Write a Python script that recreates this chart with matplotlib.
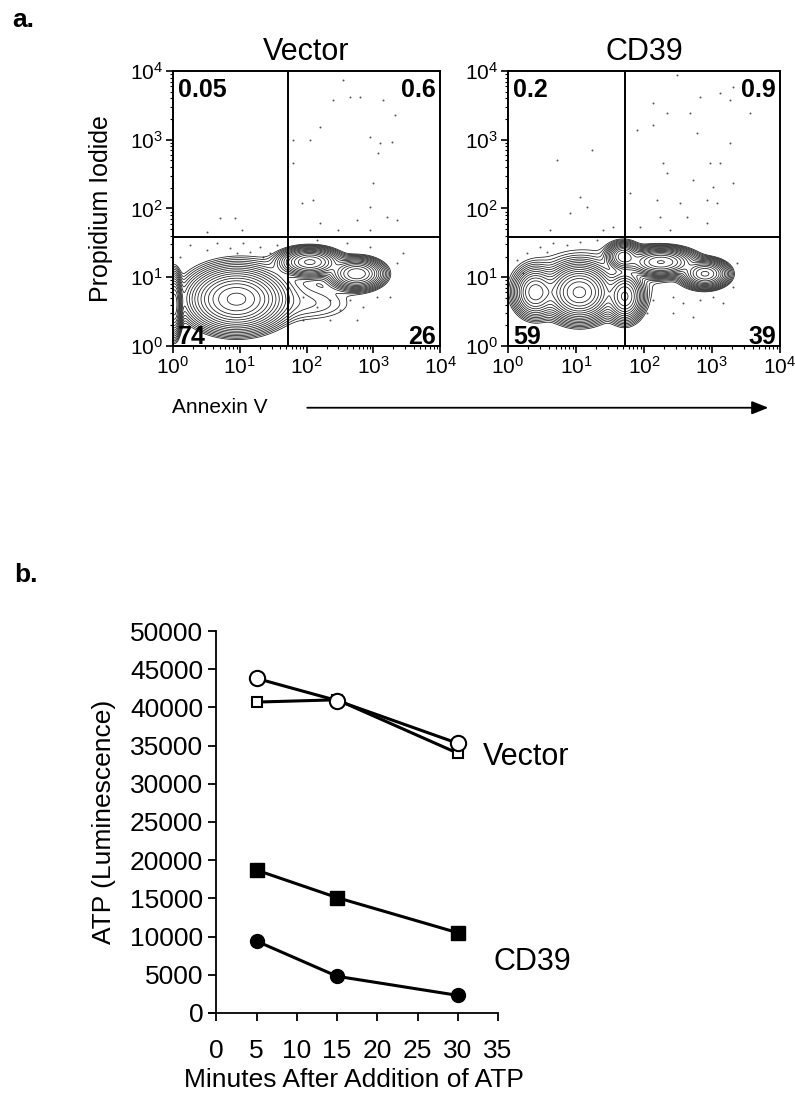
import numpy as np
import matplotlib
matplotlib.use("Agg")
import matplotlib.pyplot as plt
from matplotlib import ticker
from matplotlib.patches import FancyArrowPatch

plt.rcParams['font.family'] = ['Liberation Sans', 'DejaVu Sans']

# ---- panel b data ----
minutes = [5, 15, 30]
vec_circle = [43800, 40900, 35300]
vec_square = [40700, 41000, 34000]
cd39_square = [18700, 15100, 10500]
cd39_circle = [9400, 4800, 2300]

# ---- panel a: populations (log10 annexin, log10 PI, sd x, sd y, weight) ----
vec_cx = [0.95, 0.02, 2.05, 2.75, 1.30, 2.10]
vec_cy = [0.68, 0.60, 1.22, 1.05, 0.85, 0.60]
vec_sx = [0.30, 0.05, 0.20, 0.18, 0.70, 0.40]
vec_sy = [0.19, 0.20, 0.09, 0.10, 0.30, 0.15]
vec_w = [1.00, 0.50, 0.55, 0.50, 0.018, 0.015]

cd_cx = [1.05, 0.40, 1.72, 1.70, 2.25, 2.90, 1.20]
cd_cy = [0.78, 0.78, 0.72, 1.30, 1.22, 1.05, 0.95]
cd_sx = [0.20, 0.14, 0.12, 0.11, 0.22, 0.15, 0.75]
cd_sy = [0.17, 0.16, 0.16, 0.09, 0.09, 0.09, 0.35]
cd_w = [1.00, 0.35, 0.40, 0.35, 0.70, 0.55, 0.018]

# scattered events (log10 x, log10 y)
vec_dots_x = [2.55, 2.40, 2.65, 2.80, 3.15, 3.33, 2.20, 2.05, 2.95, 3.10, 3.28, 1.80, 1.80,
              3.07, 3.00, 2.10, 1.93, 2.95, 3.20, 3.36, 2.75, 2.20, 2.47, 2.95,
              0.70, 0.93, 1.03, 0.51,
              0.25, 0.51, 0.66, 0.85, 1.05, 1.15, 1.30, 1.45, 1.56, 0.10, 1.35, 0.96,
              1.95, 2.16, 2.35, 2.50, 2.65, 2.85, 3.06, 3.25, 2.35, 2.76, 1.95, 3.36,
              3.45, 2.16, 2.95, 2.61]
vec_dots_y = [3.87, 3.58, 3.62, 3.62, 3.58, 3.36, 3.19, 3.00, 3.04, 2.95, 2.97, 3.00, 2.66,
              2.80, 2.37, 2.12, 2.08, 2.02, 1.88, 1.83, 1.83, 1.79, 1.69, 1.69,
              1.86, 1.86, 1.69, 1.66,
              1.47, 1.40, 1.50, 1.43, 1.50, 1.37, 1.44, 1.35, 1.47, 1.29, 1.29, 1.35,
              0.71, 0.57, 0.67, 0.52, 0.67, 0.57, 0.71, 0.71, 0.38, 0.38, 0.38, 1.21,
              1.35, 1.54, 1.44, 1.50]

cd_dots_x = [2.49, 2.82, 3.12, 3.26, 3.31, 2.13, 2.34, 2.68, 3.56, 1.90, 2.13, 2.78, 3.26,
             2.28, 2.97, 3.12, 2.34, 2.72, 3.01, 3.31, 1.79, 2.19, 2.53, 2.93, 3.07,
             2.24, 2.63, 2.93, 1.94, 2.38,
             0.72, 1.24, 1.06, 0.91, 1.16, 0.62, 1.40, 1.54,
             0.13, 0.28, 0.47, 0.66, 0.87, 0.22, 1.06, 1.31, 0.57,
             2.13, 2.43, 2.57, 2.82, 3.01, 3.16, 2.43, 2.72, 3.31, 3.37, 2.04]
cd_dots_y = [3.94, 3.62, 3.68, 3.58, 3.77, 3.53, 3.39, 3.39, 3.39, 3.14, 3.21, 3.10, 2.95,
             2.66, 2.66, 2.66, 2.52, 2.41, 2.31, 2.37, 2.22, 2.12, 2.08, 2.12, 2.08,
             1.88, 1.88, 1.79, 1.73, 1.69,
             2.71, 2.85, 2.17, 1.93, 2.02, 1.69, 1.69, 1.73,
             1.25, 1.35, 1.44, 1.50, 1.47, 1.06, 1.51, 1.54, 1.37,
             0.67, 0.71, 0.63, 0.67, 0.71, 0.63, 0.48, 0.42, 0.86, 1.21, 0.48]

gate_x = 10 ** 1.72
gate_y = 10 ** 1.58

vec_quads = ['0.05', '0.6', '74', '26']
cd_quads = ['0.2', '0.9', '59', '39']


def density(cx, cy, sx, sy, w, gx, gy):
    z = np.zeros_like(gx)
    for i in range(len(cx)):
        z += w[i] * np.exp(-0.5 * (((gx - cx[i]) / sx[i]) ** 2 + ((gy - cy[i]) / sy[i]) ** 2))
    return z


def flow_panel(ax, cx, cy, sx, sy, w, dx, dy, quads, title):
    lx = np.linspace(0, 4, 400)
    ly = np.linspace(0, 4, 400)
    gx, gy = np.meshgrid(lx, ly)
    z = density(cx, cy, sx, sy, w, gx, gy)
    levels = np.geomspace(z.max() * 0.009, z.max() * 0.9, 17)
    ax.contour(10 ** gx, 10 ** gy, z, levels=levels, colors='#1a1a1a', linewidths=0.55)
    ax.scatter(10 ** np.array(dx), 10 ** np.array(dy), s=2, color='#555555', lw=0)
    ax.set_xscale('log')
    ax.set_yscale('log')
    ax.set_xlim(1, 1e4)
    ax.set_ylim(1, 1e4)
    for axis in (ax.xaxis, ax.yaxis):
        axis.set_major_locator(ticker.LogLocator(base=10, numticks=10))
        axis.set_minor_locator(ticker.LogLocator(base=10, subs=np.arange(2, 10), numticks=20))
        axis.set_minor_formatter(ticker.NullFormatter())
    ax.axvline(gate_x, color='black', lw=1.4)
    ax.axhline(gate_y, color='black', lw=1.4)
    for s in ax.spines.values():
        s.set_linewidth(1.4)
    ax.tick_params(which='major', direction='out', length=5, width=1.2, labelsize=15, pad=2)
    ax.tick_params(which='minor', direction='out', length=2.5, width=0.8)
    ax.set_title(title, fontsize=22, pad=8)
    kw = dict(transform=ax.transAxes, fontsize=18, fontweight='bold')
    ax.text(0.02, 0.975, quads[0], ha='left', va='top', **kw)
    ax.text(0.985, 0.975, quads[1], ha='right', va='top', **kw)
    ax.text(0.02, -0.01, quads[2], ha='left', va='bottom', **kw)
    ax.text(0.985, -0.01, quads[3], ha='right', va='bottom', **kw)


fig = plt.figure(figsize=(7.95, 10.99), dpi=100)

ax1 = fig.add_axes([0.2176, 0.6852, 0.336, 0.2502])
flow_panel(ax1, vec_cx, vec_cy, vec_sx, vec_sy, vec_w, vec_dots_x, vec_dots_y, vec_quads, 'Vector')
ax1.set_ylabel('Propidium Iodide', fontsize=18, labelpad=12)

ax2 = fig.add_axes([0.639, 0.6852, 0.342, 0.2502])
flow_panel(ax2, cd_cx, cd_cy, cd_sx, cd_sy, cd_w, cd_dots_x, cd_dots_y, cd_quads, 'CD39')

fig.text(0.216, 0.629, 'Annexin V', fontsize=15, ha='left', va='center')
fig.add_artist(FancyArrowPatch(
    (0.383, 0.629), (0.970, 0.629), transform=fig.transFigure,
    arrowstyle='-|>,head_length=10,head_width=4', color='black', lw=1.3))

fig.text(0.015, 0.982, 'a.', fontsize=19, fontweight='bold', ha='left', va='center')
fig.text(0.018, 0.477, 'b.', fontsize=19, fontweight='bold', ha='left', va='center')

# ---- panel b ----
ax3 = fig.add_axes([0.263, 0.0783, 0.3635, 0.3475])
line_kw = dict(color='black', lw=2.2)
ax3.plot(minutes, vec_square, marker='s', ms=7, mfc='white', mec='black', mew=1.5, **line_kw)
ax3.plot(minutes, vec_circle, marker='o', ms=11, mfc='white', mec='black', mew=1.5, **line_kw)
ax3.plot(minutes, cd39_square, marker='s', ms=10, mfc='black', mec='black', **line_kw)
ax3.plot(minutes, cd39_circle, marker='o', ms=10, mfc='black', mec='black', **line_kw)
ax3.set_xlim(-0.9, 35)
ax3.set_ylim(0, 50000)
ax3.set_xticks(range(0, 36, 5))
ax3.set_yticks(range(0, 50001, 5000))
ax3.spines['top'].set_visible(False)
ax3.spines['right'].set_visible(False)
ax3.spines['left'].set_position(('data', 0))
ax3.spines['left'].set_linewidth(1.3)
ax3.spines['bottom'].set_linewidth(1.3)
ax3.tick_params(direction='out', length=6, width=1.3, labelsize=19)
ax3.tick_params(axis='x', pad=13)
ax3.set_xlabel('Minutes After Addition of ATP', fontsize=19, labelpad=3)
ax3.set_ylabel('ATP (Luminescence)', fontsize=19, labelpad=10)
ax3.text(33.1, 33500, 'Vector', fontsize=22, ha='left', va='center')
ax3.text(34.4, 6700, 'CD39', fontsize=22, ha='left', va='center')

fig.savefig('out.png', dpi=100)
